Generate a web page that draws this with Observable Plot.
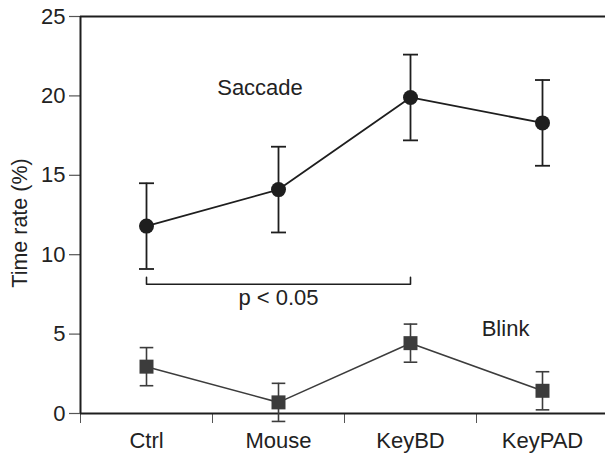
<!DOCTYPE html>
<html>
<head>
<meta charset="utf-8">
<script src="https://cdn.jsdelivr.net/npm/d3@7"></script>
<script src="https://cdn.jsdelivr.net/npm/@observablehq/plot@0.6"></script>
<style>
  html, body { margin: 0; padding: 0; background: #fff; }
</style>
</head>
<body>
<div id="chart"></div>
<script>
const categories = ["Ctrl", "Mouse", "KeyBD", "KeyPAD"];
const saccadeMean = [11.8, 14.1, 19.9, 18.3];
const saccadeErr = [2.7, 2.7, 2.7, 2.7];
const blinkMean = [2.95, 0.7, 4.43, 1.43];
const blinkErr = [1.2, 1.2, 1.2, 1.2];
const yTicks = [0, 5, 10, 15, 20, 25];
const yLabel = "Time rate (%)";
const bracketX = [0.5, 0.5, 2.5, 2.5];
const bracketY = [8.57, 8.14, 8.14, 8.57];
const noteText = ["Saccade", "Blink", "p < 0.05"];
const noteX = [1.36, 3.22, 1.5];
const noteY = [20.5, 5.3, 7.25];

const saccade = categories.map((c, i) => ({x: i + 0.5, y: saccadeMean[i], lo: saccadeMean[i] - saccadeErr[i], hi: saccadeMean[i] + saccadeErr[i]}));
const blink = categories.map((c, i) => ({x: i + 0.5, y: blinkMean[i], lo: blinkMean[i] - blinkErr[i], hi: blinkMean[i] + blinkErr[i]}));
const bracket = bracketX.map((x, i) => ({x, y: bracketY[i]}));
const notes = noteText.map((t, i) => ({t, x: noteX[i], y: noteY[i]}));

const hline = {
  draw(context, size) {
    const w = Math.sqrt(size / Math.PI);
    context.moveTo(-w, 0);
    context.lineTo(w, 0);
  }
};

const ink = "#1e1e1e";
const gray = "#3c3c3c";

const chart = Plot.plot({
  width: 605,
  height: 457,
  marginLeft: 80,
  marginRight: -3,
  marginTop: 16,
  marginBottom: 44,
  style: {fontFamily: "'Liberation Sans', Arial, sans-serif", fontSize: "22px", color: "#222", background: "#fff"},
  x: {domain: [0, 4]},
  y: {domain: [0, 25]},
  marks: [
    Plot.axisY({ticks: yTicks, tickSize: 11, tickPadding: 4, stroke: "#555", strokeWidth: 1.2, label: null, fontSize: 22}),
    Plot.text([yLabel], {frameAnchor: "left", text: d => d, textAnchor: "middle", rotate: -90, dx: -60, dy: 8, fontSize: 21.5, fill: "#222"}),
    Plot.axisX({ticks: [0, 1, 2, 3], tickSize: 10, tickFormat: () => "", stroke: "#555", strokeWidth: 1, label: null}),
    Plot.axisX({ticks: categories.map((c, i) => i + 0.5), tickSize: 0, tickPadding: 19, tickFormat: d => categories[Math.floor(d)], label: null, fontSize: 22}),
    Plot.ruleY([0, 25], {stroke: ink, strokeWidth: 2}),
    Plot.ruleX([0], {y1: 0, y2: 25, stroke: ink, strokeWidth: 2}),
    // bracket
    Plot.line(bracket, {x: "x", y: "y", stroke: ink, strokeWidth: 1.6}),
    // blink
    Plot.ruleX(blink, {x: "x", y1: "lo", y2: "hi", stroke: gray, strokeWidth: 1.6}),
    Plot.dot(blink, {x: "x", y: "lo", symbol: hline, r: 6.8, stroke: gray, strokeWidth: 1.6}),
    Plot.dot(blink, {x: "x", y: "hi", symbol: hline, r: 6.8, stroke: gray, strokeWidth: 1.6}),
    Plot.line(blink, {x: "x", y: "y", stroke: gray, strokeWidth: 1.6}),
    Plot.dot(blink, {x: "x", y: "y", symbol: "square", r: 7.9, fill: gray, stroke: "none"}),
    // saccade
    Plot.ruleX(saccade, {x: "x", y1: "lo", y2: "hi", stroke: ink, strokeWidth: 1.8}),
    Plot.dot(saccade, {x: "x", y: "lo", symbol: hline, r: 7.5, stroke: ink, strokeWidth: 1.8}),
    Plot.dot(saccade, {x: "x", y: "hi", symbol: hline, r: 7.5, stroke: ink, strokeWidth: 1.8}),
    Plot.line(saccade, {x: "x", y: "y", stroke: ink, strokeWidth: 1.8}),
    Plot.dot(saccade, {x: "x", y: "y", r: 7.5, fill: ink, stroke: "none"}),
    // annotations
    Plot.text(notes, {x: "x", y: "y", text: "t", fontSize: 22, fill: "#222"})
  ]
});
document.getElementById("chart").appendChild(chart);
</script>
</body>
</html>
